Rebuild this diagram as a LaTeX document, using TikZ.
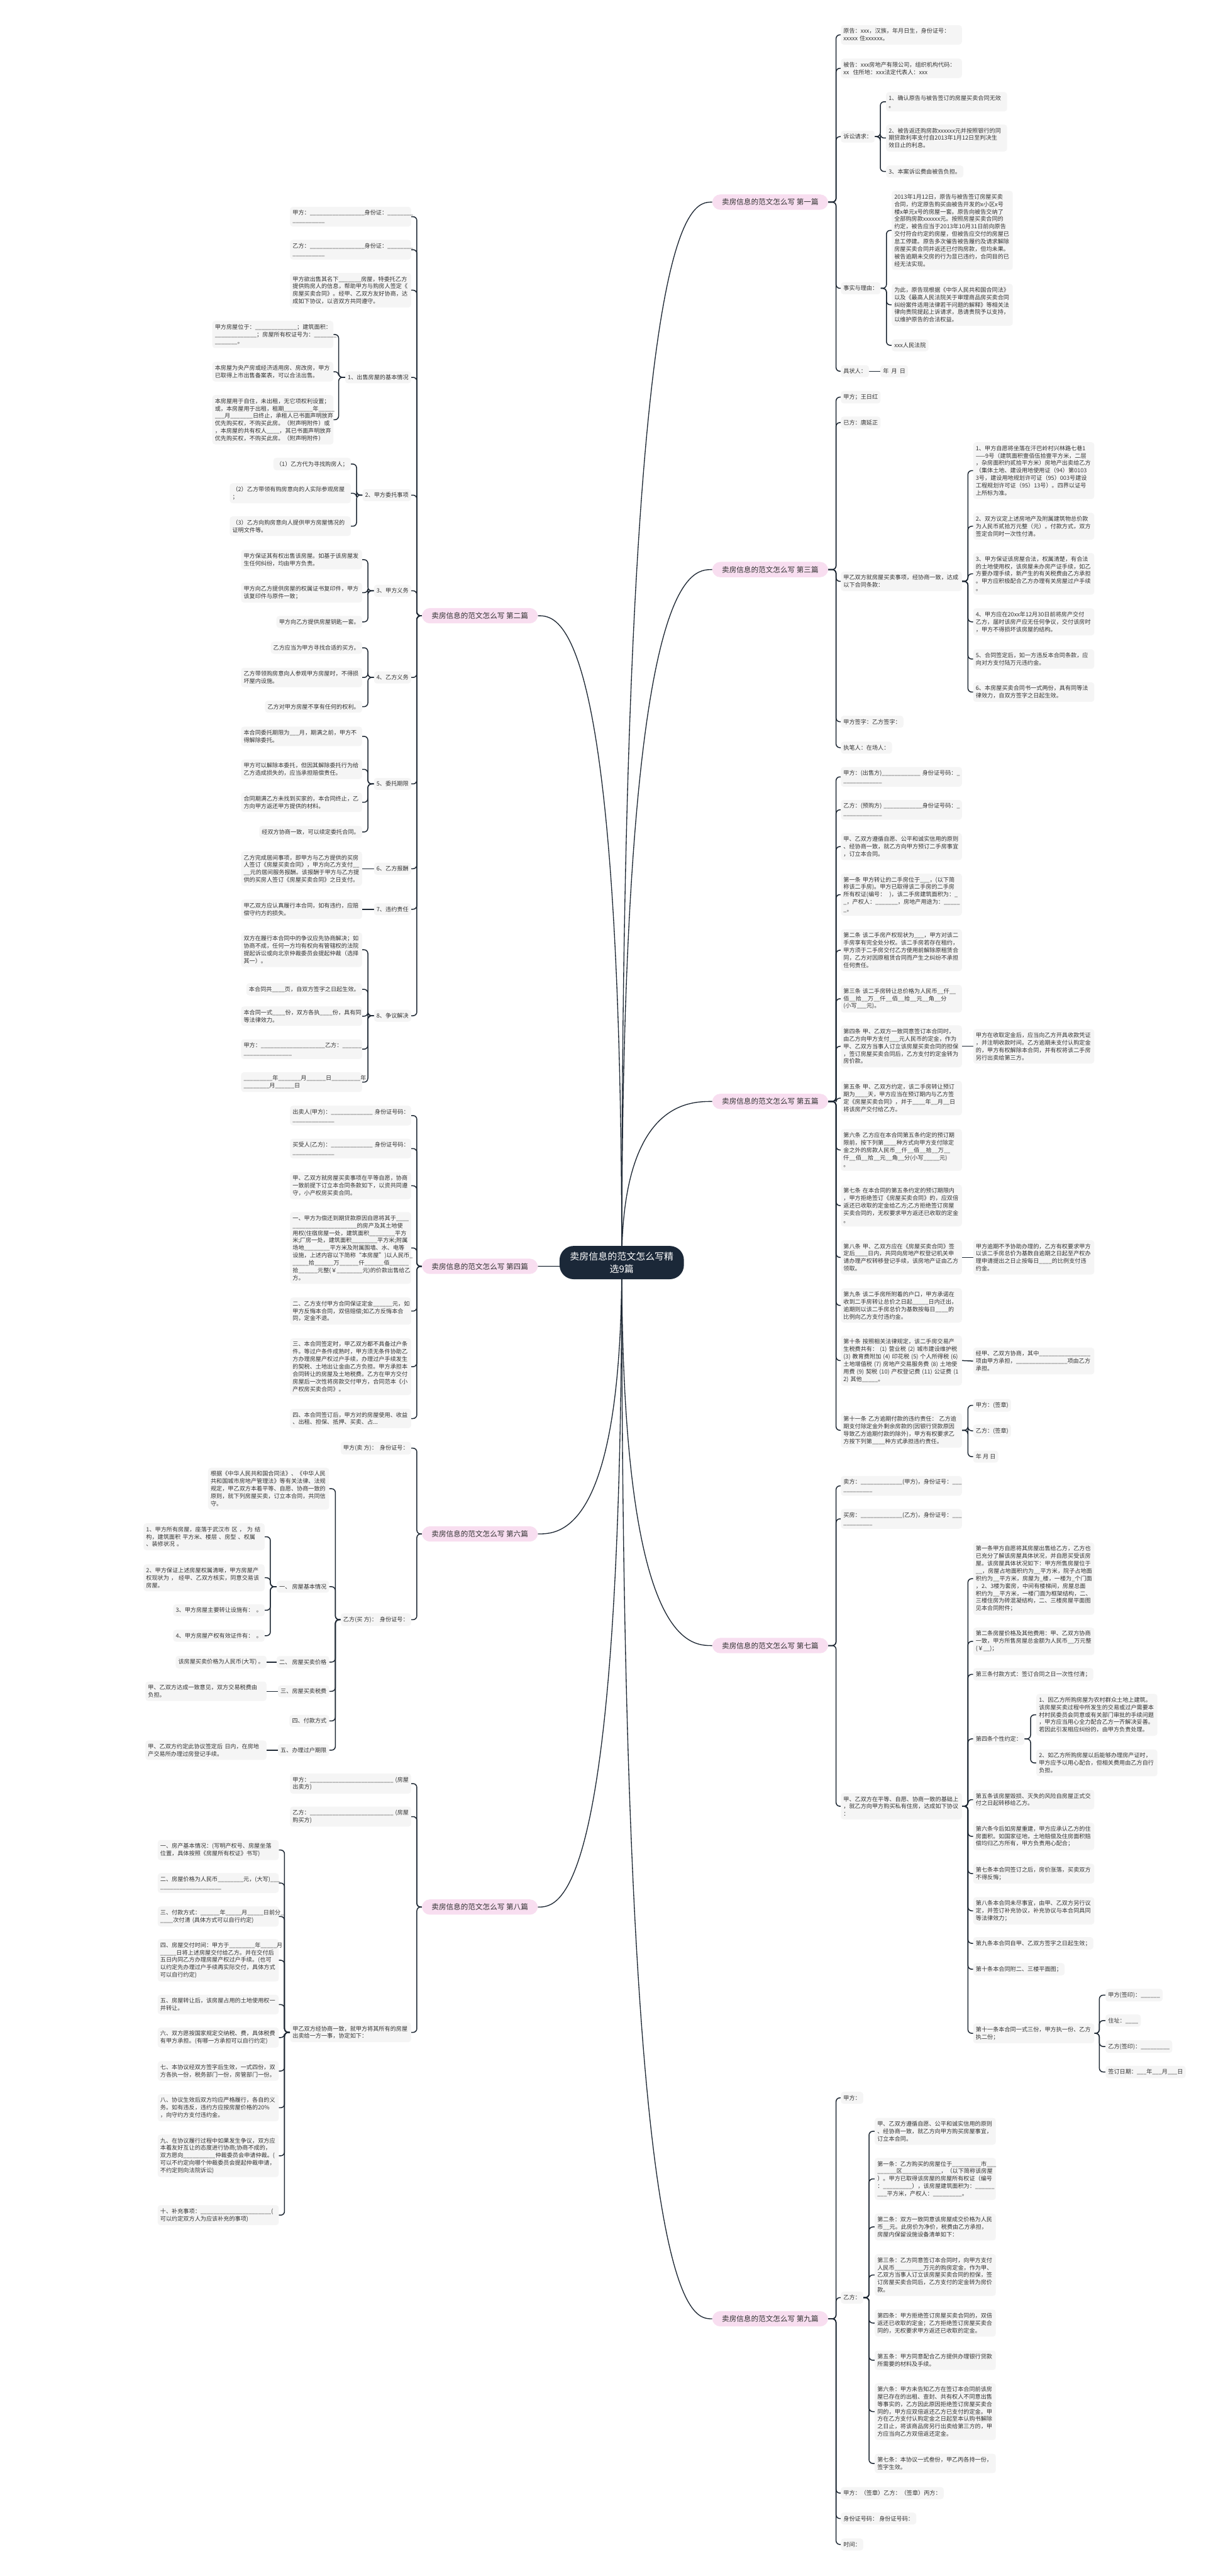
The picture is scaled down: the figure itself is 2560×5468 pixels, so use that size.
\documentclass[tikz,border=0pt]{standalone}
\usepackage{fontspec}
\setmainfont{Noto Sans CJK SC}
\newfontfamily\wmlatin{Liberation Serif}
\pgfdeclarelayer{bg}
\pgfsetlayers{bg,main}
\definecolor{boxfill}{RGB}{245,245,245}
\definecolor{txt}{RGB}{51,51,51}
\definecolor{edgec}{RGB}{30,40,52}
\definecolor{pinkfill}{RGB}{248,222,240}
\definecolor{centerfill}{RGB}{27,40,56}
\definecolor{wmc}{RGB}{195,195,195}
\tikzset{
 box/.style={fill=boxfill, text=txt, rounded corners=6pt, inner xsep=5.5pt, inner ysep=7pt, align=left, font=\fontsize{12.2}{15.85}\selectfont},
 wbox/.style={box, text width=246pt},
 lab/.style={fill=pinkfill, text=txt, rounded corners=17pt, inner xsep=14pt, inner ysep=9pt, minimum width=246pt, font=\fontsize{15.5}{19}\selectfont},
 ctr/.style={fill=centerfill, text=white, rounded corners=30pt, inner xsep=22pt, inner ysep=13pt, align=center, font=\fontsize{20}{26}\selectfont},
 br/.style={draw=edgec, line width=2pt, rounded corners=8pt},
 cv/.style={draw=edgec, line width=1.8pt},
 wmark/.style={text=wmc, opacity=0.7, rotate=27, font=\fontsize{100}{100}\selectfont}
}
\newcommand\nR[4]{\node[box,anchor=west] (#1) at (#2,#3) {#4};}
\newcommand\wR[4]{\node[wbox,anchor=west] (#1) at (#2,#3) {#4};}
\newcommand\nL[4]{\node[box,anchor=east] (#1) at (#2,#3) {#4};}
\newcommand\wL[4]{\node[wbox,anchor=east] (#1) at (#2,#3) {#4};}
\newcommand\brR[3]{\foreach \chn in {#3}{\draw[br] (#1.east) -- (#2,0 |- #1.east) |- (\chn.west);}}
\newcommand\brL[3]{\foreach \chn in {#3}{\draw[br] (#1.west) -- (#2,0 |- #1.west) |- (\chn.east);}}
\begin{document}
\catcode`\_=12
\begin{tikzpicture}[x=1pt,y=-1pt]
\useasboundingbox (0,0) rectangle (2560,5468);
% ---------- center and labels
\node[ctr] (C) at (1320,2680) {卖房信息的范文怎么写精\\选9篇};
\node[lab,anchor=west] (R1) at (1512,429) {卖房信息的范文怎么写 第一篇};
\node[lab,anchor=west] (R3) at (1512,1209) {卖房信息的范文怎么写 第三篇};
\node[lab,anchor=west] (R5) at (1512,2338) {卖房信息的范文怎么写 第五篇};
\node[lab,anchor=west] (R7) at (1512,3493) {卖房信息的范文怎么写 第七篇};
\node[lab,anchor=west] (R9) at (1512,4922) {卖房信息的范文怎么写 第九篇};
\node[lab,anchor=east] (L2) at (1142,1307) {卖房信息的范文怎么写 第二篇};
\node[lab,anchor=east] (L4) at (1142,2688) {卖房信息的范文怎么写 第四篇};
\node[lab,anchor=east] (L6) at (1142,3256) {卖房信息的范文怎么写 第六篇};
\node[lab,anchor=east] (L8) at (1142,4048) {卖房信息的范文怎么写 第八篇};
% ---------- 第一篇
\wR{a1}{1785}{74}{原告：xxx，汉族，年月日生，身份证号：\\xxxxx~住xxxxxx。}
\wR{a2}{1785}{145}{被告：xxx房地产有限公司，组织机构代码：\\xx~~住所地：xxx法定代表人：xxx}
\nR{a3}{1785}{290}{诉讼请求：}
\wR{a31}{1881}{216}{1、确认原告与被告签订的房屋买卖合同无效\\。}
\wR{a32}{1881}{293}{2、被告返还购房款xxxxxx元并按照银行的同\\期贷款利率支付自2013年1月12日至判决生\\效日止的利息。}
\nR{a33}{1881}{364}{3、本案诉讼费由被告负担。}
\nR{a4}{1785}{612}{事实与理由：}
\wR{a41}{1893}{489}{2013年1月12日，原告与被告签订房屋买卖\\合同，约定原告购买由被告开发的x小区x号\\楼x单元x号的房屋一套。原告向被告交纳了\\全部购房款xxxxxx元。按照房屋买卖合同的\\约定，被告应当于2013年10月31日前向原告\\交付符合约定的房屋，但被告应交付的房屋已\\怠工停建。原告多次催告被告履约及请求解除\\房屋买卖合同并返还已付购房款，但均未果。\\被告逾期未交房的行为显已违约，合同目的已\\经无法实现。}
\wR{a42}{1893}{647}{为此，原告现根据《中华人民共和国合同法》\\以及《最高人民法院关于审理商品房买卖合同\\纠纷案件适用法律若干问题的解释》等相关法\\律向贵院提起上诉请求，恳请贵院予以支持，\\以维护原告的合法权益。}
\nR{a43}{1893}{733}{xxx人民法院}
\nR{a5}{1785}{788}{具状人：}
\nR{a51}{1869}{788}{年\ \ 月\ \ 日}
% ---------- 第三篇
\nR{b1}{1785}{843}{甲方；王日红}
\nR{b2}{1785}{897}{已方：唐延正}
\wR{b3}{1785}{1234}{甲乙双方就房屋买卖事项，经协商一致，达成\\以下合同条款：}
\wR{b31}{2066}{999}{1、甲方自愿将坐落在汗巴岭村兴林路七巷1\\——9号（建筑面积壹佰伍拾壹平方米，二层\\，杂房面积约贰拾平方米）房地产出卖给乙方\\（集体土地、建设用地使用证（94）第0103\\3号，建设用地规划许可证（95）003号建设\\工程规划许可证（95）13号）。四界以证号\\上所标为准。}
\wR{b32}{2066}{1117}{2、双方议定上述房地产及附属建筑物总价款\\为人民币贰拾万元整（元）。付款方式，双方\\签定合同时一次性付清。}
\wR{b33}{2066}{1218}{3、甲方保证该房屋合法，权属清楚，有合法\\的土地使用权，该房屋未办房产证手续，如乙\\方要办理手续，新产生的有关税费由乙方承担\\。甲方应积极配合乙方办理有关房屋过户手续\\。}
\wR{b34}{2066}{1320}{4、甲方应在20xx年12月30日前将房产交付\\乙方，届时该房产应无任何争议，交付该房时\\，甲方不得损坏该房屋的结构。}
\wR{b35}{2066}{1399}{5、合同签定后，如一方违反本合同条款，应\\向对方支付陆万元违约金。}
\wR{b36}{2066}{1469}{6、本房屋买卖合同书一式两份，具有同等法\\律效力，自双方签字之日起生效。}
\nR{b4}{1785}{1532}{甲方签字：乙方签字：}
\nR{b5}{1785}{1587}{执笔人：在场人：}
% ---------- 第五篇
\wR{c1}{1785}{1649}{甲方：(出售方)____________~身份证号码：_\\____________}
\wR{c2}{1785}{1719}{乙方：(预购方)~____________身份证号码：_\\____________}
\wR{c3}{1785}{1797}{甲、乙双方遵循自愿、公平和诚实信用的原则\\、经协商一致，就乙方向甲方预订二手房事宜\\，订立本合同。}
\wR{c4}{1785}{1899}{第一条~甲方转让的二手房位于___，(以下简\\称该二手房)。甲方已取得该二手房的二手房\\所有权证(编号：~~)，该二手房建筑面积为：_\\_，产权人：_______，房地产用途为：_____\\_。}
\wR{c5}{1785}{2017}{第二条~该二手房产权现状为___，甲方对该二\\手房享有完全处分权。该二手房若存在租约，\\甲方须于二手房交付乙方使用前解除原租赁合\\同，乙方对因原租赁合同而产生之纠纷不承担\\任何责任。}
\wR{c6}{1785}{2120}{第三条~该二手房转让总价格为人民币__仟__\\佰__拾__万__仟__佰__拾__元__角__分\\(小写___元)。}
\wR{c7}{1785}{2221}{第四条~甲、乙双方一致同意签订本合同时，\\由乙方向甲方支付___元人民币的定金，作为\\甲、乙双方当事人订立该房屋买卖合同的担保\\，签订房屋买卖合同后，乙方支付的定金转为\\房价款。}
\wR{c71}{2066}{2221}{甲方在收取定金后，应当向乙方开具收款凭证\\，并注明收款时间。乙方逾期未支付认购定金\\的，甲方有权解除本合同，并有权将该二手房\\另行出卖给第三方。}
\wR{c8}{1785}{2331}{第五条~甲、乙双方约定，该二手房转让预订\\期为____天，甲方应当在预订期内与乙方签\\定《房屋买卖合同》，并于____年__月__日\\将该房产交付给乙方。}
\wR{c9}{1785}{2441}{第六条~乙方应在本合同第五条约定的预订期\\限前，按下列第____种方式向甲方支付除定\\金之外的房款人民币__仟__佰__拾__万__\\仟__佰__拾__元__角__分(小写_____元)\\。}
\wR{c10}{1785}{2559}{第七条~在本合同的第五条约定的预订期限内\\，甲方拒绝签订《房屋买卖合同》的，应双倍\\返还已收取的定金给乙方;乙方拒绝签订房屋\\买卖合同的，无权要求甲方返还已收取的定金\\。}
\wR{c11}{1785}{2669}{第八条~甲、乙双方应在《房屋买卖合同》签\\定后____日内，共同向房地产权登记机关申\\请办理产权转移登记手续，该房地产证由乙方\\领取。}
\wR{c111}{2066}{2669}{甲方逾期不予协助办理的，乙方有权要求甲方\\以该二手房总价为基数自逾期之日起至产权办\\理申请提出之日止按每日____的比例支付违\\约金。}
\wR{c12}{1785}{2771}{第九条~该二手房所附着的户口，甲方承诺在\\收到二手房转让总价之日起_____日内迁出，\\逾期则以该二手房总价为基数按每日____的\\比例向乙方支付违约金。}
\wR{c13}{1785}{2888}{第十条~按照相关法律规定，该二手房交易产\\生税费共有：~(1)~营业税~(2)~城市建设维护税\\(3)~教育费附加~(4)~印花税~(5)~个人所得税~(6)\\土地增值税~(7)~房地产交易服务费~(8)~土地使\\用费~(9)~契税~(10)~产权登记费~(11)~公证费~(1\\2)~其他_____。}
\wR{c131}{2066}{2889}{经甲、乙双方协商，其中________________\\项由甲方承担，________________项由乙方\\承担。}
\wR{c14}{1785}{3036}{第十一条~乙方逾期付款的违约责任：~乙方逾\\期支付除定金外剩余房款的(因银行贷款原因\\导致乙方逾期付款的除外)，甲方有权要求乙\\方按下列第____种方式承担违约责任。}
\nR{c141}{2066}{2983}{甲方：(签章)}
\nR{c142}{2066}{3037}{乙方：(签章)}
\nR{c143}{2066}{3092}{年 月 日}
% ---------- 第七篇
\wR{d1}{1785}{3154}{卖方：_____________(甲方)，身份证号：___\\_________}
\wR{d2}{1785}{3224}{买房：_____________(乙方)，身份证号：___\\_________}
\wR{d3}{1785}{3834}{甲、乙双方在平等、自愿、协商一致的基础上\\，就乙方向甲方购买私有住房，达成如下协议\\：}
\wR{d31}{2066}{3351}{第一条甲方自愿将其房屋出售给乙方，乙方也\\已充分了解该房屋具体状况，并自愿买受该房\\屋。该房屋具体状况如下：甲方所售房屋位于\\__，房屋占地面积约为__平方米，院子占地面\\积约为__平方米，房屋为_楼，一楼为_个门面\\，2、3楼为套房，中间有楼梯间，房屋总面\\积约为__平方米，一楼门面为框架结构，二、\\三楼住房为砖混凝结构，二、三楼房屋平面图\\见本合同附件；}
\wR{d32}{2066}{3484}{第二条房屋价格及其他费用：甲、乙双方协商\\一致，甲方所售房屋总金额为人民币__万元整\\(￥__)；}
\nR{d33}{2066}{3554}{第三条付款方式：签订合同之日一次性付清；}
\nR{d34}{2066}{3691}{第四条个性约定：}
\wR{d341}{2200}{3640}{1、因乙方所购房屋为农村群众土地上建筑。\\该房屋买卖过程中所发生的交易或过户需要本\\村村民委员会同意或有关部门审批的手续问题\\，甲方应当用心全力配合乙方一齐解决妥善。\\若因此引发相应纠纷的，由甲方负责处理。}
\wR{d342}{2200}{3742}{2、如乙方所购房屋以后能够办理房产证时，\\甲方应予以用心配合，但相关费用由乙方自行\\负担。}
\wR{d35}{2066}{3820}{第五条该房屋毁损、灭失的风险自房屋正式交\\付之日起转移给乙方。}
\wR{d36}{2066}{3898}{第六条今后如房屋重建，甲方应承认乙方的住\\房面积。如国家征地，土地赔偿及住房面积赔\\偿均归乙方所有，甲方负责用心配合；}
\wR{d37}{2066}{3977}{第七条本合同签订之后，房价涨落，买卖双方\\不得反悔；}
\wR{d38}{2066}{4056}{第八条本合同未尽事宜，由甲、乙双方另行议\\定，并签订补充协议，补充协议与本合同具同\\等法律效力；}
\nR{d39}{2066}{4125}{第九条本合同自甲、乙双方签字之日起生效；}
\nR{d310}{2066}{4180}{第十条本合同附二、三楼平面图；}
\wR{d311}{2066}{4316}{第十一条本合同一式三份，甲方执一份、乙方\\执二份；}
\nR{d3111}{2347}{4235}{甲方(签印)：______}
\nR{d3112}{2347}{4289}{住址：____}
\nR{d3113}{2347}{4344}{乙方(签印)：_________}
\nR{d3114}{2347}{4398}{签订日期：___年___月___日}
% ---------- 第九篇
\nR{e1}{1785}{4453}{甲方：}
\nR{e2}{1785}{4877}{乙方：}
\wR{e21}{1857}{4524}{甲、乙双方遵循自愿、公平和诚实信用的原则\\、经协商一致，就乙方向甲方购买房屋事宜，\\订立本合同。}
\wR{e22}{1857}{4625}{第一条：乙方购买的房屋位于_________市___\\______区____________，（以下简称该房屋\\）。甲方已取得该房屋的房屋所有权证（编号\\：_________），该房屋建筑面积为：______\\___平方米，产权人：_________。}
\wR{e23}{1857}{4727}{第二条：双方一致同意该房屋成交价格为人民\\币__元。此房价为净价，税费由乙方承担，\\房屋内保留设施设备清单如下：}
\wR{e24}{1857}{4829}{第三条：乙方同意签订本合同时，向甲方支付\\人民币_________万元的购房定金，作为甲、\\乙双方当事人订立该房屋买卖合同的担保，签\\订房屋买卖合同后，乙方支付的定金转为房价\\款。}
\wR{e25}{1857}{4931}{第四条：甲方拒绝签订房屋买卖合同的，双倍\\返还已收取的定金；乙方拒绝签订房屋买卖合\\同的，无权要求甲方返还已收取的定金。}
\wR{e26}{1857}{5010}{第五条：甲方同意配合乙方提供办理银行贷款\\所需要的材料及手续。}
\wR{e27}{1857}{5119}{第六条：甲方未告知乙方在签订本合同前该房\\屋已存在的出租、查封、共有权人不同意出售\\等事实的，乙方因此原因拒绝签订房屋买卖合\\同的，甲方应双倍返还乙方已支付的定金。甲\\方在乙方支付认购定金之日起至本认购书解除\\之日止，将该商品房另行出卖给第三方的，甲\\方应当向乙方双倍返还定金。}
\wR{e28}{1857}{5229}{第七条：本协议一式叁份，甲乙丙各持一份，\\签字生效。}
\nR{e3}{1785}{5292}{甲方：（签章）乙方：（签章）丙方：}
\nR{e4}{1785}{5346}{身份证号码：\ 身份证号码：}
\nR{e5}{1785}{5401}{时间：}
% ---------- 第二篇
\wL{f1}{873}{460}{甲方：_________________身份证：________\\__________}
\wL{f2}{873}{530}{乙方：_________________身份证：________\\__________}
\wL{f3}{873}{616}{甲方欲出售其名下_______房屋，特委托乙方\\提供购房人的信息，帮助甲方与购房人签定《\\房屋买卖合同》。经甲、乙双方友好协商，达\\成如下协议，以咨双方共同遵守。}
\nL{f4}{873}{801}{1、出售房屋的基本情况}
\wL{f41}{708}{710}{甲方房屋位于：_____________；建筑面积：\\_____________；房屋所有权证号为：_______\\_______。}
\wL{f42}{708}{789}{本房屋为央产房或经济适用房、房改房，甲方\\已取得上市出售备案表，可以合法出售。}
\wL{f43}{708}{891}{本房屋用于自住，未出租，无它项权利设置；\\或，本房屋用于出租，租期_________年_____\\___月_______日终止，承租人已书面声明放弃\\优先购买权，不购买此房。（附声明附件）或\\，本房屋的共有权人____，其已书面声明放弃\\优先购买权，不购买此房。（附声明附件）}
\nL{f5}{873}{1051}{2、甲方委托事项}
\nL{f51}{745}{985}{（1）乙方代为寻找购房人；}
\wL{f52}{745}{1047}{（2）乙方带领有购房意向的人实际参观房屋\\；}
\wL{f53}{745}{1117}{（3）乙方向购房意向人提供甲方房屋情况的\\证明文件等。}
\nL{f6}{873}{1254}{3、甲方义务}
\wL{f61}{769}{1188}{甲方保证其有权出售该房屋。如基于该房屋发\\生任何纠纷，均由甲方负责。}
\wL{f62}{769}{1258}{甲方向乙方提供房屋的权属证书复印件，甲方\\该复印件与原件一致；}
\nL{f63}{769}{1320}{甲方向乙方提供房屋钥匙一套。}
\nL{f7}{873}{1438}{4、乙方义务}
\nL{f71}{769}{1375}{乙方应当为甲方寻找合适的买方。}
\wL{f72}{769}{1438}{乙方带领购房意向人参观甲方房屋时，不得损\\坏屋内设施。}
\nL{f73}{769}{1500}{乙方对甲方房屋不享有任何的权利。}
\nL{f8}{873}{1664}{5、委托期限}
\wL{f81}{769}{1563}{本合同委托期限为___月，期满之前，甲方不\\得解除委托。}
\wL{f82}{769}{1633}{甲方可以解除本委托，但因其解除委托行为给\\乙方造成损失的，应当承担赔偿责任。}
\wL{f83}{769}{1703}{合同期满乙方未找到买家的，本合同终止，乙\\方向甲方返还甲方提供的材料。}
\nL{f84}{769}{1766}{经双方协商一致，可以续定委托合同。}
\nL{f9}{873}{1844}{6、乙方报酬}
\wL{f91}{769}{1844}{乙方完成居间事项，即甲方与乙方提供的买房\\人签订《房屋买卖合同》，甲方向乙方支付__\\__元的居间服务报酬。该报酬于甲方与乙方提\\供的买房人签订《房屋买卖合同》之日支付。}
\nL{f10}{873}{1930}{7、违约责任}
\wL{f101}{769}{1930}{甲乙双方应认真履行本合同，如有违约，应赔\\偿守约方的损失。}
\nL{f11}{873}{2156}{8、争议解决}
\wL{f111}{769}{2016}{双方在履行本合同中的争议应先协商解决；如\\协商不成，任何一方均有权向有管辖权的法院\\提起诉讼或向北京仲裁委员会提起仲裁（选择\\其一）。}
\nL{f112}{769}{2100}{本合同共____页，自双方签字之日起生效。}
\wL{f113}{769}{2157}{本合同一式____份，双方各执____份，具有同\\等法律效力。}
\wL{f114}{769}{2227}{甲方：____________________乙方：______\\_______________}
\wL{f115}{769}{2297}{_________年_______月______日_________年\\________月______日}
% ---------- 第四篇
\wL{g1}{873}{2368}{出卖人(甲方)：_____________~身份证号码：\\_____________}
\wL{g2}{873}{2438}{买受人(乙方)：_____________~身份证号码：\\_____________}
\wL{g3}{873}{2517}{甲、乙双方就房屋买卖事项在平等自愿，协商\\一致前提下订立本合同条款如下，以资共同遵\\守，小产权房买卖合同。}
\wL{g4}{873}{2649}{一、甲方为偿还到期贷款原因自愿将其于____\\____________________的房产及其土地使\\用权(住宿房屋一处，建筑面积________平方\\米;厂房一处，建筑面积________平方米;附属\\场地________平方米及附属围墙、水、电等\\设施，上述内容以下简称“本房屋”)以人民币_\\_____拾______万______仟______佰______\\拾______元整(￥________元)的价款出售给乙\\方。}
\wL{g5}{873}{2783}{二、乙方支付甲方合同保证定金______元，如\\甲方反悔本合同，双倍赔偿;如乙方反悔本合\\同，定金不退。}
\wL{g6}{873}{2901}{三、本合同签定时，甲乙双方都不具备过户条\\件。等过户条件成熟时，甲方须无条件协助乙\\方办理房屋产权过户手续，办理过户手续发生\\的契税、土地出让金由乙方负担。甲方承担本\\合同转让的房屋及土地税费。乙方在甲方交付\\房屋后一次性将房款交付甲方，合同范本《小\\产权房买卖合同》。}
\wL{g7}{873}{3011}{四、本合同签订后，甲方对的房屋使用、收益\\、出租、担保、抵押、买卖、占...}
% ---------- 第六篇
\nL{h1}{873}{3074}{甲方(卖 方)：\ \ 身份证号：}
\nL{h2}{873}{3438}{乙方(买 方)：\ \ 身份证号：}
\wL{h21}{699}{3160}{根据《中华人民共和国合同法》、《中华人民\\共和国城市房地产管理法》等有关法律、法规\\规定，甲乙双方本着平等、自愿、协商一致的\\原则，就下列房屋买卖，订立本合同，共同信\\守。}
\nL{h22}{699}{3368}{一、\ 房屋基本情况}
\wL{h221}{562}{3262}{1、甲方所有房屋，座落于武汉市~区~，~为~结\\构，建筑面积~平方米、楼层~、房型~、权属\\、装修状况~。}
\wL{h222}{562}{3349}{2、甲方保证上述房屋权属清晰，甲方房屋产\\权现状为~，~经甲、乙双方核实，同意交易该\\房屋。}
\nL{h223}{562}{3418}{3、甲方房屋主要转让设施有：\ \ 。}
\nL{h224}{562}{3472}{4、甲方房屋产权有效证件有：\ \ 。}
\nL{h23}{699}{3528}{二、\ 房屋买卖价格}
\nL{h231}{566}{3528}{该房屋买卖价格为人民币(大写) 。}
\nL{h24}{699}{3590}{三、房屋买卖税费}
\wL{h241}{566}{3590}{甲、乙双方达成一致意见，双方交易税费由\\负担。}
\nL{h25}{699}{3653}{四、付款方式}
\nL{h26}{699}{3715}{五、办理过户期限}
\wL{h261}{566}{3715}{甲、乙双方约定此协议签定后~日内，在房地\\产交易所办理过房登记手续。}
% ---------- 第八篇
\wL{k1}{873}{3786}{甲方：__________________________~(房屋\\出卖方)}
\wL{k2}{873}{3856}{乙方：__________________________~(房屋\\购买方)}
\wL{k3}{873}{4314}{甲乙双方经协商一致，就甲方将其所有的房屋\\出卖给一方一事，协定如下：}
\wL{k31}{592}{3927}{一、房产基本情况：(写明产权号、房屋坐落\\位置，具体按照《房屋所有权证》书写)}
\wL{k32}{592}{3997}{二、房屋价格为人民币________元，(大写)___\\___________________}
\wL{k33}{592}{4068}{三、付款方式：______年_____月_____日前分_\\____次付清~(具体方式可以自行约定)}
\wL{k34}{592}{4161}{四、房屋交付时间：甲方于________年_____月\\_____日将上述房屋交付给乙方。并在交付后\\五日内同乙方办理房屋产权过户手续。(也可\\以约定先办理过户手续再实际交付，具体方式\\可以自行约定)}
\wL{k35}{592}{4255}{五、房屋转让后，该房屋占用的土地使用权一\\并转让。}
\wL{k36}{592}{4325}{六、双方愿按国家规定交纳税、费，具体税费\\有甲方承担。(有哪一方承担可以自行约定)}
\wL{k37}{592}{4396}{七、本协议经双方签字后生效，一式四份，双\\方各执一份，税务部门一份，房管部门一份。}
\wL{k38}{592}{4474}{八、协议生效后双方均应严格履行，各自的义\\务。如有违反，违约方应按房屋价格的20\%\\，向守约方支付违约金。}
\wL{k39}{592}{4576}{九、在协议履行过程中如果发生争议，双方应\\本着友好互让的态度进行协商;协商不成的，\\双方愿向__________仲裁委员会申请仲裁。(\\可以不约定向哪个仲裁委员会提起仲裁申请，\\不约定则向法院诉讼)}
\wL{k310}{592}{4702}{十、补充事项：______________________(\\可以约定双方人为应该补充的事项)}
% ---------- connectors
\begin{pgfonlayer}{bg}
\fill[white] (0,0) rectangle (2560,5468);
\draw[cv] (C.center) .. controls (1320,429) and (1464,429) .. (R1.west);
\draw[cv] (C.center) .. controls (1320,1209) and (1464,1209) .. (R3.west);
\draw[cv] (C.center) .. controls (1320,2338) and (1464,2338) .. (R5.west);
\draw[cv] (C.center) .. controls (1320,3493) and (1464,3493) .. (R7.west);
\draw[cv] (C.center) .. controls (1320,4922) and (1464,4922) .. (R9.west);
\draw[cv] (C.center) .. controls (1320,1307) and (1187,1307) .. (L2.east);
\draw[cv] (C.center) .. controls (1320,2688) and (1187,2688) .. (L4.east);
\draw[cv] (C.center) .. controls (1320,3256) and (1187,3256) .. (L6.east);
\draw[cv] (C.center) .. controls (1320,4048) and (1187,4048) .. (L8.east);
% right
\brR{R1}{1775}{a1,a2,a3,a4,a5}
\brR{a3}{1869}{a31,a32,a33}
\brR{a4}{1882}{a41,a42,a43}
\draw[br] (a5.east) -- (a51.west);
\brR{R3}{1775}{b1,b2,b3,b4,b5}
\brR{b3}{2055}{b31,b32,b33,b34,b35,b36}
\brR{R5}{1775}{c1,c2,c3,c4,c5,c6,c7,c8,c9,c10,c11,c12,c13,c14}
\draw[br] (c7.east) -- (c71.west);
\draw[br] (c11.east) -- (c111.west);
\draw[br] (c13.east) -- (c131.west);
\brR{c14}{2055}{c141,c142,c143}
\brR{R7}{1775}{d1,d2,d3}
\brR{d3}{2055}{d31,d32,d33,d34,d35,d36,d37,d38,d39,d310,d311}
\brR{d34}{2188}{d341,d342}
\brR{d311}{2334}{d3111,d3112,d3113,d3114}
\brR{R9}{1775}{e1,e2,e3,e4,e5}
\brR{e2}{1845}{e21,e22,e23,e24,e25,e26,e27,e28}
% left
\brL{L2}{885}{f1,f2,f3,f4,f5,f6,f7,f8,f9,f10,f11}
\brL{f4}{719}{f41,f42,f43}
\brL{f5}{757}{f51,f52,f53}
\brL{f6}{781}{f61,f62,f63}
\brL{f7}{781}{f71,f72,f73}
\brL{f8}{781}{f81,f82,f83,f84}
\draw[br] (f9.west) -- (f91.east);
\draw[br] (f10.west) -- (f101.east);
\brL{f11}{781}{f111,f112,f113,f114,f115}
\brL{L4}{885}{g1,g2,g3,g4,g5,g6,g7}
\brL{L6}{885}{h1,h2}
\brL{h2}{712}{h21,h22,h23,h24,h25,h26}
\brL{h22}{574}{h221,h222,h223,h224}
\draw[br] (h23.west) -- (h231.east);
\draw[br] (h24.west) -- (h241.east);
\draw[br] (h26.west) -- (h261.east);
\brL{L8}{885}{k1,k2,k3}
\brL{k3}{604}{k31,k32,k33,k34,k35,k36,k37,k38,k39,k310}
\end{pgfonlayer}
\end{tikzpicture}
\end{document}
